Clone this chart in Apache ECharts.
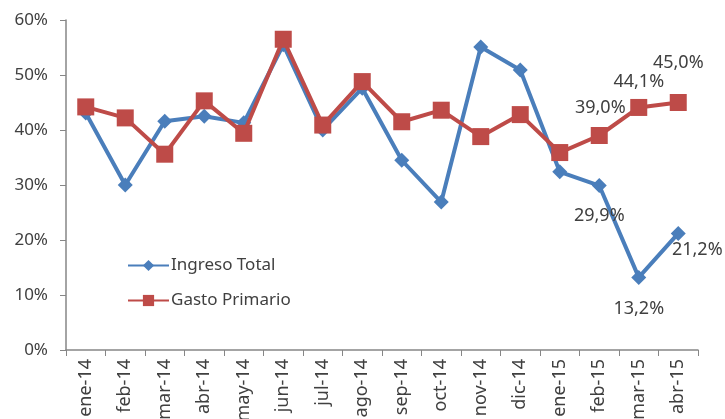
<!DOCTYPE html>
<html>
<head>
<meta charset="utf-8">
<script src="https://cdn.jsdelivr.net/npm/echarts@6/dist/echarts.min.js"></script>
<style>
  html, body { margin: 0; padding: 0; background: #fff; }
  #chart { width: 725px; height: 419px; }
</style>
</head>
<body>
<div id="chart"></div>
<script>
// Monthly categories
const months = ['ene-14','feb-14','mar-14','abr-14','may-14','jun-14','jul-14','ago-14',
                'sep-14','oct-14','nov-14','dic-14','ene-15','feb-15','mar-15','abr-15'];
// Year-on-year growth, percent
const ingresoTotal  = [43.1, 30.0, 41.6, 42.5, 41.3, 55.5, 40.0, 47.6,
                       34.5, 26.9, 55.1, 50.9, 32.4, 29.9, 13.2, 21.2];
const gastoPrimario = [44.2, 42.2, 35.6, 45.3, 39.4, 56.5, 40.9, 48.8,
                       41.5, 43.6, 38.8, 42.8, 35.9, 39.0, 44.1, 45.0];
// Axis ticks
const yTicks = [0, 10, 20, 30, 40, 50, 60];

const fmt = v => v.toFixed(1).replace('.', ',') + '%';
const FONT = 'Noto Sans';
const TXT = '#404040';

// Value labels: offset of the label centre from its point
const ingresoLabels = { 13: [0, 30], 14: [0, 31], 15: [19, 16] };
const gastoLabels   = { 13: [1, -28], 14: [0, -26], 15: [0, -40] };

function withLabels(values, labels) {
  return values.map((v, i) => {
    const off = labels[i];
    if (!off) return v;
    return {
      value: v,
      label: {
        show: true, position: 'inside', offset: off,
        align: 'center', verticalAlign: 'middle',
        formatter: p => fmt(p.value),
        fontFamily: FONT, fontSize: 18, color: TXT
      }
    };
  });
}

const chart = echarts.init(document.getElementById('chart'));
chart.setOption({
  animation: false,
  grid: { left: 66, right: 27, top: 20, bottom: 69, containLabel: false, outerBoundsMode: 'none' },
  legend: {
    orient: 'vertical', left: 127, top: 257, padding: 0,
    itemWidth: 41, itemHeight: 14, itemGap: 18,
    textStyle: { fontFamily: FONT, fontSize: 17, color: TXT, padding: [0, 0, 0, -3] },
    data: ['Ingreso Total', 'Gasto Primario']
  },
  xAxis: {
    type: 'category', data: months, boundaryGap: true,
    axisLine: { lineStyle: { color: '#868686', width: 1.5 } },
    axisTick: { show: true, alignWithLabel: false, length: 6, lineStyle: { color: '#868686' } },
    axisLabel: { rotate: 90, interval: 0, margin: 9, fontFamily: FONT, fontSize: 18, color: TXT }
  },
  yAxis: {
    type: 'value', min: 0, max: 60, interval: 10,
    splitLine: { show: false },
    axisLine: { show: true, lineStyle: { color: '#868686', width: 1.5 } },
    axisTick: { show: true, inside: false, length: 6, lineStyle: { color: '#868686' } },
    axisLabel: {
      margin: 18, fontFamily: FONT, fontSize: 17, color: TXT,
      formatter: v => yTicks.includes(v) ? v + '%' : ''
    }
  },
  series: [
    {
      name: 'Ingreso Total', type: 'line',
      data: withLabels(ingresoTotal, ingresoLabels),
      symbol: 'diamond', symbolSize: 15,
      lineStyle: { color: '#4A7EBB', width: 4 },
      itemStyle: { color: '#4A7EBB' },
      z: 2
    },
    {
      name: 'Gasto Primario', type: 'line',
      data: withLabels(gastoPrimario, gastoLabels),
      symbol: 'rect', symbolSize: 17,
      lineStyle: { color: '#BE4B48', width: 4 },
      itemStyle: { color: '#BE4B48' },
      z: 3
    }
  ]
});
</script>
</body>
</html>
